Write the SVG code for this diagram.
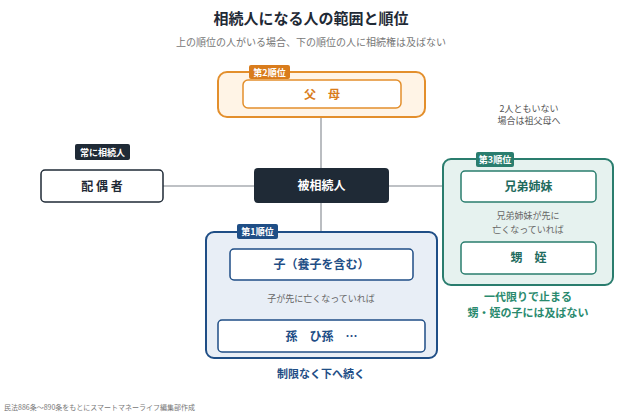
<svg xmlns="http://www.w3.org/2000/svg" width="622" height="417" viewBox="0 0 622 417">
<style>
text{font-family:"Noto Sans CJK JP","Noto Sans",sans-serif;text-anchor:middle}
.t{font-weight:700}
.w{fill:#fff}
.small{font-size:9px;fill:#666}
</style>
<defs><marker id="a" markerWidth="8" markerHeight="8" refX="4" refY="4" orient="auto"><path d="M0,0L8,4L0,8z" fill="#1f4e86"/></marker></defs>
<rect width="622" height="417" fill="#fff"/>
<text x="311" y="24" class="t" font-size="15" fill="#1f2a36">相続人になる人の範囲と順位</text>
<text x="311" y="46" font-size="10" fill="#777">上の順位の人がいる場合、下の順位の人に相続権は及ばない</text>
<g id="connectors" stroke="#a9adb2" stroke-width="1.6" fill="none">
<line x1="321" y1="117" x2="321" y2="249"/>
<line x1="163" y1="186" x2="461" y2="186"/>
<line x1="321" y1="280" x2="321" y2="290" stroke="#1f4e86"/>
<line x1="321" y1="306" x2="321" y2="313" stroke="#1f4e86" marker-end="url(#a)"/>
<line x1="528" y1="202" x2="528" y2="208" stroke="#2a7d6e"/>
<circle cx="528" cy="238" r="1" fill="#2a7d6e" stroke="none"/>
</g>
<g id="parents">
<rect x="218" y="72" width="207" height="45" rx="9" fill="#fff4e6" stroke="#e38f2c" stroke-width="2"/>
<rect x="243" y="80" width="158" height="28" rx="5" fill="#fff" stroke="#e38f2c" stroke-width="1.5"/>
<text x="322" y="99" class="t" font-size="12" fill="#d97c1c">父　母</text>
<rect x="249" y="65" width="41" height="14" rx="2" fill="#d97c1c"/>
<text x="269.5" y="76" class="t w" font-size="9">第2順位</text>
</g>
<text x="529" y="112" font-size="9" fill="#555">2人ともいない</text>
<text x="529" y="124" font-size="9" fill="#555">場合は祖父母へ</text>
<g id="deceased">
<rect x="254" y="168" width="135" height="35" rx="4" fill="#1f2a36"/>
<text x="321.5" y="190" class="t w" font-size="12">被相続人</text>
</g>
<g id="spouse">
<rect x="75" y="144" width="55" height="16" rx="2" fill="#1f2a36"/>
<text x="102.5" y="156" class="t w" font-size="9">常に相続人</text>
<rect x="41" y="170" width="122" height="32" rx="4" fill="#fff" stroke="#1f2a36" stroke-width="1.5"/>
<text x="102" y="191" class="t" font-size="12" fill="#1f2a36">配 偶 者</text>
</g>
<g id="siblings">
<rect x="443" y="159" width="170" height="126" rx="8" fill="#e6f2ef" stroke="#2a7d6e" stroke-width="2"/>
<rect x="476" y="152" width="38" height="15" rx="2" fill="#2a7d6e"/>
<text x="495" y="163" class="t w" font-size="9">第3順位</text>
<rect x="461" y="171" width="135" height="31" rx="4" fill="#fff" stroke="#2a7d6e" stroke-width="1.5"/>
<text x="528.5" y="191" class="t" font-size="12" fill="#1f6b5e">兄弟姉妹</text>
<text x="528" y="219" class="small">兄弟姉妹が先に</text>
<text x="528" y="233" class="small">亡くなっていれば</text>
<rect x="461" y="242" width="135" height="32" rx="4" fill="#fff" stroke="#2a7d6e" stroke-width="1.5"/>
<text x="528.5" y="262" class="t" font-size="12" fill="#1f6b5e">甥　姪</text>
<text x="528" y="301" class="t" font-size="11" fill="#2a8a6e">一代限りで止まる</text>
<text x="528" y="317" class="t" font-size="11" fill="#2a8a6e">甥・姪の子には及ばない</text>
</g>
<g id="children">
<rect x="206" y="232" width="231" height="126" rx="8" fill="#e8eef6" stroke="#1f4e86" stroke-width="2"/>
<rect x="237" y="224" width="41" height="15" rx="2" fill="#1f4e86"/>
<text x="257.5" y="235" class="t w" font-size="9">第1順位</text>
<rect x="230" y="249" width="183" height="31" rx="4" fill="#fff" stroke="#1f4e86" stroke-width="1.5"/>
<text x="321.5" y="269" class="t" font-size="12" fill="#1f4e86">子（養子を含む）</text>
<text x="321" y="302" class="small">子が先に亡くなっていれば</text>
<rect x="218" y="320" width="207" height="32" rx="4" fill="#fff" stroke="#1f4e86" stroke-width="1.5"/>
<text x="321.5" y="341" class="t" font-size="12" fill="#1f4e86">孫　ひ孫　…</text>
<text x="321" y="378" class="t" font-size="11" fill="#1f4e86">制限なく下へ続く</text>
</g>
<text x="4" y="410" font-size="7" fill="#777" style="text-anchor:start">民法886条〜890条をもとにスマートマネーライフ編集部作成</text>
</svg>
